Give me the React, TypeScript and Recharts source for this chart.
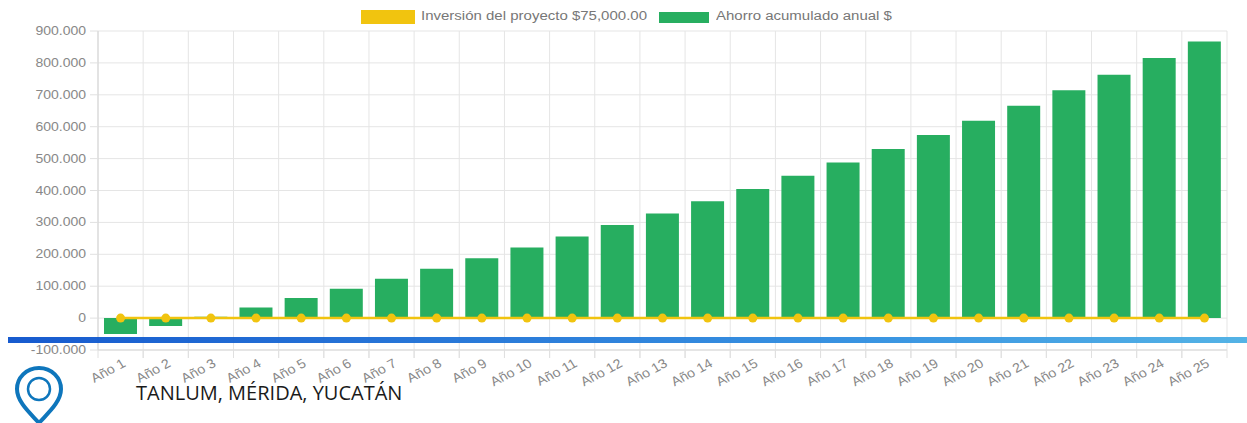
import React from "react";
import {
  ComposedChart,
  Bar,
  Line,
  XAxis,
  YAxis,
  CartesianGrid,
} from "recharts";

const years = [
  "Año 1", "Año 2", "Año 3", "Año 4", "Año 5", "Año 6", "Año 7", "Año 8", "Año 9", "Año 10",
  "Año 11", "Año 12", "Año 13", "Año 14", "Año 15", "Año 16", "Año 17", "Año 18", "Año 19", "Año 20",
  "Año 21", "Año 22", "Año 23", "Año 24", "Año 25",
];
const ahorro = [
  -50000, -25000, 4000, 33000, 63000, 92000, 123000, 155000, 188000, 221000,
  256000, 292000, 328000, 366000, 405000, 446000, 488000, 530000, 574000, 619000,
  666000, 714000, 763000, 815000, 867000,
];
const inversion = years.map(() => 0);
const yTicks = [-100000, 0, 100000, 200000, 300000, 400000, 500000, 600000, 700000, 800000, 900000];

const data = years.map((name, i) => ({ name, ahorro: ahorro[i], inversion: inversion[i] }));

const W = 1247;
const H = 423;
const M = { top: 31, right: 20, bottom: 0, left: 8 };
const YW = 90;
const plotW = W - M.left - YW - M.right;
const band = plotW / years.length;
const FONT = '"Liberation Sans", Arial, sans-serif';

const fmt = (v: number) => (v === 0 ? "0" : v.toLocaleString("de-DE"));

const XTick = ({ x, y, payload }: any) => (
  <g>
    <line x1={x - band / 2} x2={x - band / 2} y1={y - 8} y2={y} stroke="#e0e0e0" />
    <line x1={x + band / 2} x2={x + band / 2} y1={y - 8} y2={y} stroke="#e0e0e0" />
    <text
      x={0}
      y={0}
      textAnchor="end"
      fontSize={13}
      fill="#888"
      fontFamily={FONT}
      transform={`translate(${x + 6} ${y + 8}) scale(1.1 1) rotate(-30)`}
    >
      {payload.value}
    </text>
  </g>
);

const YTick = ({ x, y, payload }: any) => (
  <text
    x={0}
    y={0}
    textAnchor="end"
    fontSize={12.5}
    fill="#888"
    fontFamily={FONT}
    transform={`translate(${x - 2} ${y + 4}) scale(1.12 1)`}
  >
    {fmt(payload.value)}
  </text>
);

const legendLabel: React.CSSProperties = {
  position: "absolute",
  top: 9,
  fontFamily: FONT,
  fontSize: 12,
  lineHeight: "15px",
  color: "#777",
  whiteSpace: "nowrap",
  transform: "scaleX(1.25)",
  transformOrigin: "left center",
};

const LegendBox = () => (
  <>
    <div style={{ position: "absolute", left: 361, top: 10, width: 54, height: 14, background: "#f1c40f" }} />
    <div style={{ ...legendLabel, left: 421 }}>Inversión del proyecto $75,000.00</div>
    <div style={{ position: "absolute", left: 659, top: 12, width: 50, height: 11, background: "#27ae60" }} />
    <div style={{ ...legendLabel, left: 716 }}>Ahorro acumulado anual $</div>
  </>
);

export default function App() {
  return (
    <div style={{ position: "absolute", left: 0, top: 0, width: W, height: H, overflow: "hidden", background: "#fff" }}>
      <ComposedChart width={W} height={H} data={data} margin={M} barCategoryGap={0}>
        <CartesianGrid
          stroke="#e5e5e5"
          verticalCoordinatesGenerator={({ offset }: any) =>
            Array.from({ length: years.length + 1 }, (_, i) => offset.left + i * (offset.width / years.length))
          }
        />
        <XAxis
          dataKey="name"
          height={73}
          interval={0}
          axisLine={{ stroke: "#d8d8d8" }}
          tickLine={false}
          tick={<XTick />}
        />
        <YAxis
          width={YW}
          domain={[-100000, 900000]}
          ticks={yTicks}
          interval={0}
          axisLine={{ stroke: "#d4d4d4" }}
          tickLine={{ stroke: "#e0e0e0" }}
          tickSize={8}
          tickMargin={2}
          tick={<YTick />}
        />
        <Bar dataKey="ahorro" fill="#27ae60" barSize={33} isAnimationActive={false} />
        <Line
          dataKey="inversion"
          stroke="#f1c40f"
          strokeWidth={2.5}
          dot={{ r: 4.5, fill: "#f1c40f", stroke: "#f1c40f", strokeWidth: 0 }}
          isAnimationActive={false}
        />
      </ComposedChart>
      <LegendBox />
      <div
        style={{
          position: "absolute",
          left: 8,
          top: 337,
          width: W - 8,
          height: 6,
          opacity: 0.95,
          background: "linear-gradient(90deg, #0b52cc 0%, #2f8fe0 70%, #4bafe4 100%)",
        }}
      />
      <svg style={{ position: "absolute", left: 10, top: 360 }} width={60} height={63}>
        <path
          d="M29 8 C16 8 7 18 7 29 C7 42 20 53 29 63 C38 53 51 42 51 29 C51 18 42 8 29 8 Z"
          fill="none"
          stroke="#0e76bc"
          strokeWidth={4}
        />
        <circle cx={29} cy={29} r={11} fill="none" stroke="#0e76bc" strokeWidth={2.5} />
      </svg>
      <div
        style={{
          position: "absolute",
          left: 136,
          top: 379,
          fontFamily: '"Open Sans", sans-serif',
          fontSize: 20,
          lineHeight: "28px",
          color: "#1a1a1a",
          whiteSpace: "nowrap",
        }}
      >
        TANLUM, MÉRIDA, YUCATÁN
      </div>
    </div>
  );
}
